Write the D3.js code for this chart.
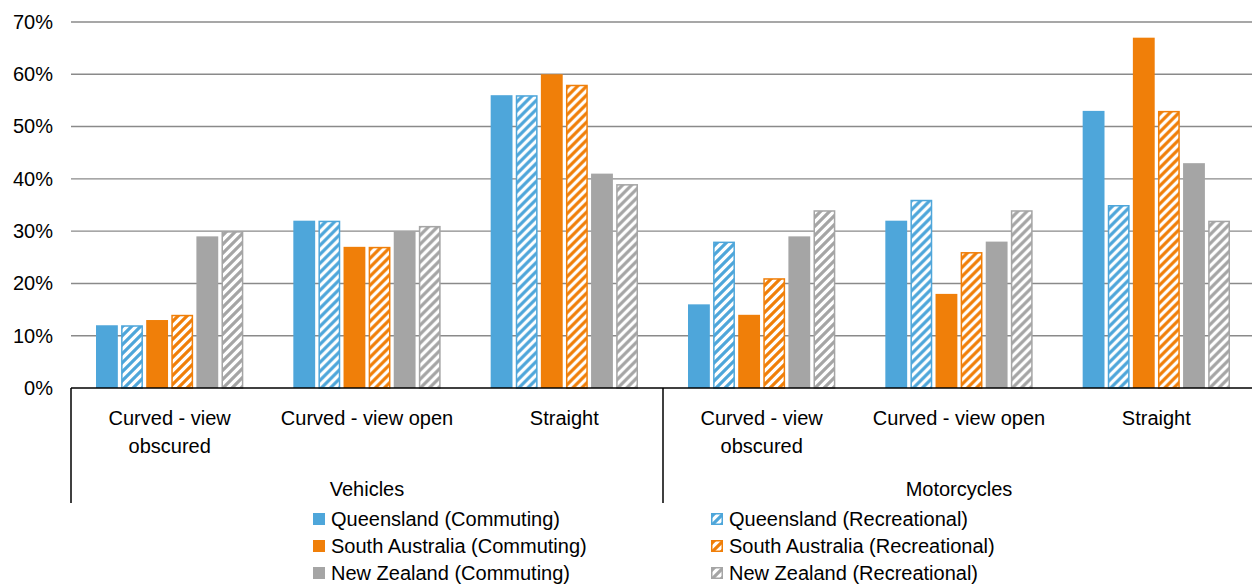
<!DOCTYPE html>
<html><head><meta charset="utf-8">
<script src="https://cdn.jsdelivr.net/npm/d3@7/dist/d3.min.js"></script>
<style>
body{margin:0;background:#fff;}
svg{display:block;font-family:"Liberation Sans",Arial,sans-serif;}
</style></head>
<body><svg id="c" width="1252" height="585"></svg>
<script>
const groups = ["Vehicles","Motorcycles"];
const categories = ["Curved - view obscured","Curved - view open","Straight"];
const series = ["Queensland (Commuting)","Queensland (Recreational)","South Australia (Commuting)","South Australia (Recreational)","New Zealand (Commuting)","New Zealand (Recreational)"];
const seriesColors = ["#4EA6DA","#4EA6DA","#F07F09","#F07F09","#A5A5A5","#A5A5A5"];
const seriesHatched = [false,true,false,true,false,true];
// values per group/category, in series order
const vehiclesValues = [
  [12,12,13,14,29,30],
  [32,32,27,27,30,31],
  [56,56,60,58,41,39]
];
const motorcyclesValues = [
  [16,28,14,21,29,34],
  [32,36,18,26,28,34],
  [53,35,67,53,43,32]
];
const yTicks = [0,10,20,30,40,50,60,70];

const rows = [];
[vehiclesValues, motorcyclesValues].forEach((g,gi)=>g.forEach((vals,ci)=>rows.push({group:groups[gi],cat:categories[ci],key:gi+"|"+ci,vals})));

const svg = d3.select("#c");
const L = 71, R = 1255, T = 22, B = 388;
const y = d3.scaleLinear().domain([0,70]).range([B,T]);
const x0 = d3.scaleBand().domain(rows.map(r=>r.key)).range([L,R]);
const gx = d3.scaleBand().domain(groups).range([L,R]);
const x1 = d3.scaleBand().domain(series).range([25, x0.bandwidth()-25]).paddingInner(0.13);

const defs = svg.append("defs");
seriesColors.forEach((c,i)=>{
  if(!seriesHatched[i]) return;
  const p = defs.append("pattern").attr("id","h"+i).attr("patternUnits","userSpaceOnUse")
    .attr("width",9).attr("height",9);
  p.append("rect").attr("width",9).attr("height",9).attr("fill","#fff");
  p.append("path").attr("d","M-3,3 L3,-3 M0,9 L9,0 M6,12 L12,6")
    .attr("stroke",c).attr("stroke-width",3.2);
});

// gridlines
svg.append("g").selectAll("line").data(yTicks.filter(t=>t>0)).join("line")
  .attr("x1",L).attr("x2",1252).attr("y1",d=>y(d)).attr("y2",d=>y(d))
  .attr("stroke","#8a8a8a").attr("stroke-width",1.4);

// y axis labels
const yAxis = d3.axisLeft(y).tickValues(yTicks).tickFormat(d=>d+"%").tickSize(0).tickPadding(0);
const ya = svg.append("g").attr("transform",`translate(53,0)`).call(yAxis);
ya.select(".domain").remove();
ya.selectAll("text").attr("font-size",20).attr("fill","#000").attr("font-family","Liberation Sans, Arial, sans-serif");

// bars
const cg = svg.append("g").selectAll("g").data(rows).join("g")
  .attr("transform",d=>`translate(${x0(d.key)},0)`);
cg.selectAll("rect").data(d=>d.vals.map((v,i)=>({v,i}))).join("rect")
  .attr("x",d=>x1(series[d.i]) + (seriesHatched[d.i]?0.75:0))
  .attr("width",d=>x1.bandwidth() - (seriesHatched[d.i]?1.5:0))
  .attr("y",d=>y(d.v) + (seriesHatched[d.i]?0.75:0))
  .attr("height",d=>B - y(d.v) - (seriesHatched[d.i]?0.75:0))
  .attr("fill",d=>seriesHatched[d.i]?`url(#h${d.i})`:seriesColors[d.i])
  .attr("stroke",d=>seriesHatched[d.i]?seriesColors[d.i]:"none")
  .attr("stroke-width",1.5);

// category axis
svg.append("line").attr("x1",L).attr("x2",1252).attr("y1",B).attr("y2",B).attr("stroke","#000").attr("stroke-width",1.5);
svg.append("g").selectAll("line").data(groups).join("line")
  .attr("x1",d=>gx(d)).attr("x2",d=>gx(d)).attr("y1",B).attr("y2",503)
  .attr("stroke","#000").attr("stroke-width",1.5);

const catLines = {"Curved - view obscured":["Curved - view","obscured"],"Curved - view open":["Curved - view open"],"Straight":["Straight"]};
const ct = svg.append("g").selectAll("text").data(rows).join("text")
  .attr("x",d=>x0(d.key)+x0.bandwidth()/2).attr("y",425)
  .attr("text-anchor","middle").attr("font-size",20).attr("fill","#000");
ct.selectAll("tspan").data(d=>catLines[d.cat]).join("tspan")
  .attr("x",function(){return this.parentNode.getAttribute("x");})
  .attr("dy",(d,i)=>i?27.5:0).text(d=>d);

svg.append("g").selectAll("text").data(groups).join("text")
  .attr("x",d=>gx(d)+gx.bandwidth()/2).attr("y",496)
  .attr("text-anchor","middle").attr("font-size",20).attr("fill","#000").text(d=>d);

// legend
const legX = [313, 711], legY = [526, 553, 580];
const lg = svg.append("g").selectAll("g").data(series).join("g")
  .attr("transform",(d,i)=>`translate(${legX[i%2]},${legY[Math.floor(i/2)]})`);
lg.append("rect").attr("x",d=>seriesHatched[series.indexOf(d)]?0.75:0).attr("y",d=>-13+(seriesHatched[series.indexOf(d)]?0.75:0))
  .attr("width",d=>seriesHatched[series.indexOf(d)]?10.5:12).attr("height",d=>seriesHatched[series.indexOf(d)]?10.5:12)
  .attr("fill",(d,i)=>seriesHatched[i]?`url(#h${i})`:seriesColors[i])
  .attr("stroke",(d,i)=>seriesHatched[i]?seriesColors[i]:"none").attr("stroke-width",1.5);
lg.append("text").attr("x",18).attr("y",0).attr("font-size",20).attr("fill","#000")
  .attr("textLength",(d,i)=>null).text(d=>d);
</script></body></html>
